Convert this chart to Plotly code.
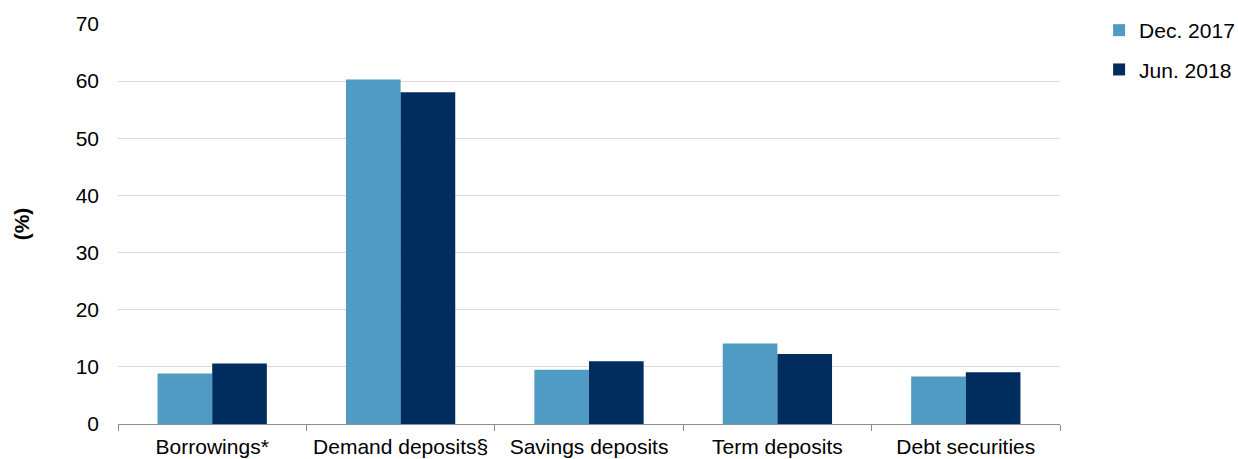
import plotly.graph_objects as go

categories = ["Borrowings*", "Demand deposits§", "Savings deposits", "Term deposits", "Debt securities"]
dec_2017 = [8.85, 60.3, 9.5, 14.1, 8.3]
jun_2018 = [10.6, 58.05, 11.0, 12.25, 9.05]
y_ticks = [0, 10, 20, 30, 40, 50, 60, 70]

font_family = "Liberation Sans, Arial, sans-serif"
fs = 21

fig = go.Figure()
fig.add_trace(go.Bar(x=categories, y=dec_2017, name="Dec. 2017",
                     marker=dict(color="#509BC3", line=dict(width=0)),
                     legendgroup="a"))
fig.add_trace(go.Bar(x=categories, y=jun_2018, name="Jun. 2018",
                     marker=dict(color="#002D5E", line=dict(width=0)),
                     legendgroup="b"))

fig.update_layout(
    width=1238, height=459,
    margin=dict(l=118, r=178, t=24, b=35, autoexpand=False),
    paper_bgcolor="white", plot_bgcolor="white",
    barmode="group", bargap=0.42, bargroupgap=0,
    font=dict(family=font_family, size=fs, color="#000000"),
    legend=dict(x=1.0415, y=1.035, xanchor="left", yanchor="top",
                font=dict(size=fs), traceorder="grouped",
                tracegroupgap=9, itemwidth=30),
    xaxis=dict(showline=True, linecolor="#8C8C8C", linewidth=1,
               ticks="outside", tickson="boundaries", ticklen=6,
               tickcolor="#8C8C8C", showgrid=False, automargin=False,
               ticklabelstandoff=4,
               tickfont=dict(size=fs)),
    yaxis=dict(range=[0, 70], tickvals=y_ticks, showgrid=True,
               gridcolor="#D9D9D9", gridwidth=1, zeroline=False,
               showline=False, ticks="", ticklabelstandoff=18,
               automargin=False, tickfont=dict(size=fs),
               title=dict(text="<b>(%)</b>", font=dict(size=fs), standoff=40)),
)

fig.write_html("out.html")
